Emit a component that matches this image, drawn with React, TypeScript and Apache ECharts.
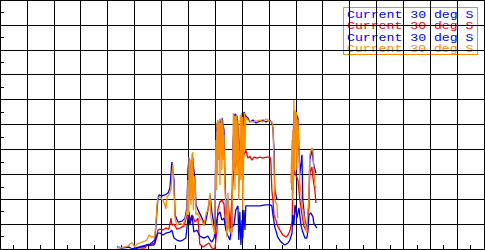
import React, { useEffect, useRef } from "react";
import * as echarts from "echarts";

const legendLabels = ["Current 30 deg S", "Current 30 deg S", "Current 30 deg S", "Current 30 deg S"];
const seriesColors = ["#0000ff", "#ff0000", "#0000ff", "#ff8c00"];

const blueUpper: (number | null)[][] = [
  [5.02, 0.0], [5.39, 0.12], [5.58, 0.2], [5.76, 0.36], [5.8, 0.96], [5.84, 1.57], [5.87, 1.97], [5.91, 2.17],
  [6.02, 2.13], [6.13, 2.17], [6.25, 2.25], [6.32, 2.45], [6.39, 3.49], [6.47, 2.77], [6.51, 1.37], [6.62, 1.08],
  [6.77, 1.12], [6.88, 1.24], [6.95, 1.65], [6.99, 3.17], [7.03, 3.65], [7.1, 3.37], [7.17, 3.65], [7.21, 3.17],
  [7.25, 2.77], [7.29, 1.77], [7.4, 1.49], [7.51, 1.24], [7.62, 0.96], [7.7, 1.37], [7.77, 1.77], [7.81, 2.17],
  [7.88, 1.49], [7.96, 0.96], [7.99, 0.76], [8.03, 4.66], [8.1, 5.1], [8.18, 5.02], [8.25, 5.26], [8.33, 4.78],
  [8.36, 3.17], [8.4, 1.77], [8.44, 0.76], [8.48, 1.97], [8.55, 0.96], [8.62, 0.68], [8.66, 4.18], [8.74, 5.42],
  [8.81, 5.34], [8.92, 3.98], [9.0, 3.25], [9.03, 4.78], [9.07, 5.5], [9.14, 5.34], [9.22, 5.26], [9.29, 5.1],
  [9.41, 5.18], [9.52, 5.06], [9.67, 5.14], [9.78, 5.18], [9.89, 5.1], [9.96, 5.14], [10.04, 5.18], [10.11, 5.06],
  [10.15, 4.86], [10.19, 3.98], [10.22, 2.37], [10.3, 1.97], [10.31, null],
  [10.86, 2.37], [10.93, 5.5], [11.0, 5.46], [11.08, 5.26], [11.15, 2.97], [11.23, 3.78], [11.26, 1.97],
  [11.34, 1.16], [11.41, 0.76], [11.49, 1.77], [11.52, 3.57], [11.6, 3.98], [11.67, 3.37], [11.75, 3.05],
];

const red: number[][] = [
  [5.2, 0.04], [5.39, 0.04], [5.5, 0.2], [5.58, 0.12], [5.65, 0.24], [5.76, 0.2], [5.84, 0.52], [5.87, 0.76],
  [5.95, 0.8], [6.06, 0.76], [6.17, 0.84], [6.28, 0.8], [6.36, 1.24], [6.39, 0.96], [6.47, 1.0], [6.58, 0.8],
  [6.69, 0.84], [6.84, 0.92], [6.95, 1.33], [7.03, 1.41], [7.1, 1.16], [7.17, 1.33], [7.25, 1.08], [7.36, 1.24],
  [7.43, 0.2], [7.55, 0.08], [7.66, 0.16], [7.77, 0.24], [7.88, 0.04], [7.99, 0.0], [8.07, 0.76], [8.1, 1.57],
  [8.18, 1.89], [8.25, 1.97], [8.33, 1.81], [8.36, 1.37], [8.4, 0.84], [8.48, 1.08], [8.55, 0.72], [8.62, 1.97],
  [8.7, 3.17], [8.77, 3.37], [8.85, 3.9], [8.92, 3.57], [9.0, 3.37], [9.07, 3.78], [9.14, 3.98], [9.22, 3.65],
  [9.29, 3.73], [9.37, 3.57], [9.44, 3.69], [9.55, 3.65], [9.67, 3.69], [9.78, 3.65], [9.89, 3.69], [10.04, 3.69],
  [10.07, 3.57], [10.11, 2.37], [10.15, 1.97], [10.19, 1.37], [10.26, 1.16], [10.33, 0.92], [10.41, 0.76],
  [10.52, 0.56], [10.63, 0.48], [10.71, 0.56], [10.78, 0.72], [10.86, 1.08], [10.89, 2.37], [10.93, 3.17],
  [11.0, 2.97], [11.08, 2.77], [11.15, 1.97], [11.23, 1.37], [11.3, 0.92], [11.38, 0.76], [11.45, 0.84],
  [11.49, 1.97], [11.52, 3.05], [11.6, 3.29], [11.64, 2.85], [11.71, 2.37], [11.75, 1.85],
];

const blueLower: number[][] = [
  [4.35, 0.08], [4.54, 0.04], [4.8, 0.08], [4.91, 0.0], [5.43, 0.16], [5.58, 0.16], [5.72, 0.16], [5.8, 0.44],
  [5.87, 0.64], [5.95, 0.64], [6.06, 0.56], [6.17, 0.64], [6.32, 0.68], [6.39, 0.76], [6.47, 0.44], [6.58, 0.36],
  [6.69, 0.32], [6.8, 0.36], [6.91, 0.44], [6.99, 1.24], [7.03, 1.49], [7.06, 0.96], [7.14, 1.37], [7.21, 0.68],
  [7.32, 0.76], [7.43, 0.52], [7.58, 0.44], [7.73, 0.52], [7.81, 0.36], [7.88, 0.28], [7.96, 0.44], [8.03, 0.96],
  [8.1, 1.37], [8.18, 1.49], [8.25, 1.16], [8.33, 1.24], [8.4, 0.76], [8.48, 0.52], [8.55, 0.36], [8.62, 0.88],
  [8.7, 0.96], [8.77, 1.57], [8.85, 1.73], [8.88, 0.36], [8.92, 1.49], [8.96, 0.16], [9.0, 1.16], [9.03, 0.44],
  [9.07, 1.57], [9.11, 0.76], [9.14, 1.73], [9.29, 1.73], [9.48, 1.73], [9.67, 1.73], [9.85, 1.77], [10.04, 1.77],
  [10.11, 1.73], [10.15, 1.37], [10.22, 0.88], [10.33, 0.48], [10.45, 0.28], [10.59, 0.16], [10.71, 0.24],
  [10.78, 0.36], [10.86, 0.64], [10.89, 1.37], [10.93, 0.96], [10.97, 1.77], [11.0, 1.57], [11.04, 1.24],
  [11.12, 1.65], [11.19, 0.96], [11.26, 0.68], [11.34, 0.44], [11.41, 0.44], [11.45, 0.68], [11.49, 1.37],
  [11.56, 1.45], [11.64, 1.29], [11.67, 1.04], [11.78, 0.84],
];

const orange: (number | null)[][] = [
  [4.35, 0.04], [4.65, 0.08], [4.76, 0.12], [4.83, 0.2], [4.91, 0.24], [5.02, 0.08], [5.09, 0.2], [5.2, 0.24],
  [5.28, 0.28], [5.39, 0.32], [5.46, 0.36], [5.54, 0.56], [5.65, 0.48], [5.76, 0.52], [5.8, 1.08], [5.84, 1.77],
  [5.87, 2.05], [5.95, 2.09], [6.02, 2.01], [6.06, 1.97], [6.13, 1.77], [6.17, 1.61], [6.21, 2.09], [6.28, 2.17],
  [6.36, 2.41], [6.39, 2.89], [6.43, 3.37], [6.47, 2.37], [6.51, 1.24], [6.58, 0.96], [6.69, 1.04], [6.8, 0.96],
  [6.88, 1.16], [6.95, 1.49], [6.99, 2.77], [7.01, 1.37], [7.03, 3.69], [7.04, 1.97], [7.06, 2.57], [7.08, 3.57],
  [7.1, 1.77], [7.12, 3.17], [7.14, 3.82], [7.16, 1.97], [7.17, 3.9], [7.19, 1.57], [7.21, 2.17], [7.25, 2.93],
  [7.29, 1.37], [7.36, 1.45], [7.43, 1.24], [7.51, 1.16], [7.58, 0.92], [7.66, 1.41], [7.73, 1.57], [7.81, 2.25],
  [7.84, 1.29], [7.92, 0.88], [7.99, 0.6], [8.03, 4.38], [8.05, 2.37], [8.07, 5.1], [8.09, 2.97], [8.1, 5.18],
  [8.14, 3.57], [8.16, 5.22], [8.18, 2.57], [8.2, 5.06], [8.22, 3.98], [8.23, 5.26], [8.25, 3.17], [8.29, 5.18],
  [8.31, 3.57], [8.33, 4.58], [8.36, 2.65], [8.4, 1.57], [8.44, 0.48], [8.48, 2.25], [8.51, 0.84], [8.55, 0.68],
  [8.59, 0.84], [8.62, 0.52], [8.66, 3.98], [8.68, 5.46], [8.7, 3.17], [8.72, 5.34], [8.74, 2.37], [8.75, 5.26],
  [8.77, 3.57], [8.79, 5.38], [8.81, 2.97], [8.85, 5.18], [8.88, 1.97], [8.92, 3.37], [8.94, 5.38], [8.96, 2.77],
  [8.98, 5.46], [9.0, 3.17], [9.01, 5.3], [9.03, 1.57], [9.07, 4.38], [9.09, 5.46], [9.11, 3.98], [9.14, 5.3],
  [9.22, 5.18], [9.29, 5.14], [9.41, 5.1], [9.52, 5.14], [9.67, 5.18], [9.78, 5.1], [9.89, 5.22], [10.04, 5.14],
  [10.11, 5.1], [10.15, 4.9], [10.19, 3.57], [10.22, 1.97], [10.3, 1.77], [10.33, 1.24], [10.34, null],
  [10.82, 2.65], [10.86, 4.38], [10.87, 1.97], [10.89, 4.78], [10.91, 2.37], [10.93, 5.98], [10.95, 3.17],
  [10.97, 5.58], [11.0, 3.98], [11.02, 5.5], [11.04, 3.17], [11.08, 5.18], [11.12, 3.98], [11.15, 2.65],
  [11.23, 1.77], [11.3, 1.37], [11.34, 1.04], [11.41, 0.64], [11.45, 1.57], [11.49, 1.97], [11.52, 3.78],
  [11.6, 4.06], [11.64, 3.98], [11.67, 3.17], [11.71, 2.57], [11.75, 2.45],
];

const seriesData = [blueUpper, red, blueLower, orange];

const xMin = 0;
const xMax = 18;
const yMin = 0;
const yMax = 10;

export default function App() {
  const ref = useRef<HTMLDivElement>(null);

  useEffect(() => {
    if (!ref.current) return;
    const chart = echarts.init(ref.current, null, { renderer: "svg" });

    const axisCommon = {
      type: "value" as const,
      interval: 1,
      axisLine: { show: true, lineStyle: { color: "#000", width: 1 } },
      axisTick: { show: true, inside: true, length: 4, lineStyle: { color: "#000" } },
      minorTick: { show: true, splitNumber: 2, length: 4, lineStyle: { color: "#000", width: 1 } },
      axisLabel: { show: false },
    };

    chart.setOption({
      animation: false,
      backgroundColor: "#fff",
      grid: { left: 0, right: 1, top: 0, bottom: 1, show: false },
      xAxis: [
        {
          ...axisCommon,
          min: xMin,
          max: xMax,
          position: "bottom",
          splitLine: { show: true, lineStyle: { color: "#000", width: 1 } },
        },
        {
          ...axisCommon,
          min: xMin,
          max: xMax,
          position: "top",
          splitLine: { show: false },
        },
      ],
      yAxis: [
        {
          ...axisCommon,
          min: yMin,
          max: yMax,
          position: "left",
          splitLine: { show: true, lineStyle: { color: "#000", width: 1 } },
        },
        {
          ...axisCommon,
          min: yMin,
          max: yMax,
          position: "right",
          splitLine: { show: false },
        },
      ],
      series: seriesData.map((d, i) => ({
        type: "line",
        name: legendLabels[i] + " " + i,
        data: d,
        xAxisIndex: 0,
        yAxisIndex: 0,
        showSymbol: false,
        connectNulls: false,
        lineStyle: { color: seriesColors[i], width: 1.3 },
        itemStyle: { color: seriesColors[i] },
        z: 2 + i,
      })),
      graphic: [
        {
          type: "group",
          z: 100,
          children: [
            {
              type: "rect",
              shape: { x: 343.5, y: 7.5, width: 134, height: 47 },
              style: { fill: "#fff", stroke: "#ff8c00", lineWidth: 1 },
            },
            ...legendLabels.map((t, i) => ({
              type: "text",
              x: 347,
              y: 15 + i * 11.4,
              scaleX: 1.2,
              scaleY: 1,
              style: {
                text: t,
                fill: seriesColors[i],
                fontSize: 11,
                fontFamily: "Liberation Mono",
                verticalAlign: "middle",
                align: "left",
              },
            })),
          ],
        },
      ],
    });

    return () => chart.dispose();
  }, []);

  return (
    <div
      ref={ref}
      style={{ position: "fixed", left: 0, top: 0, width: 485, height: 250 }}
    />
  );
}
